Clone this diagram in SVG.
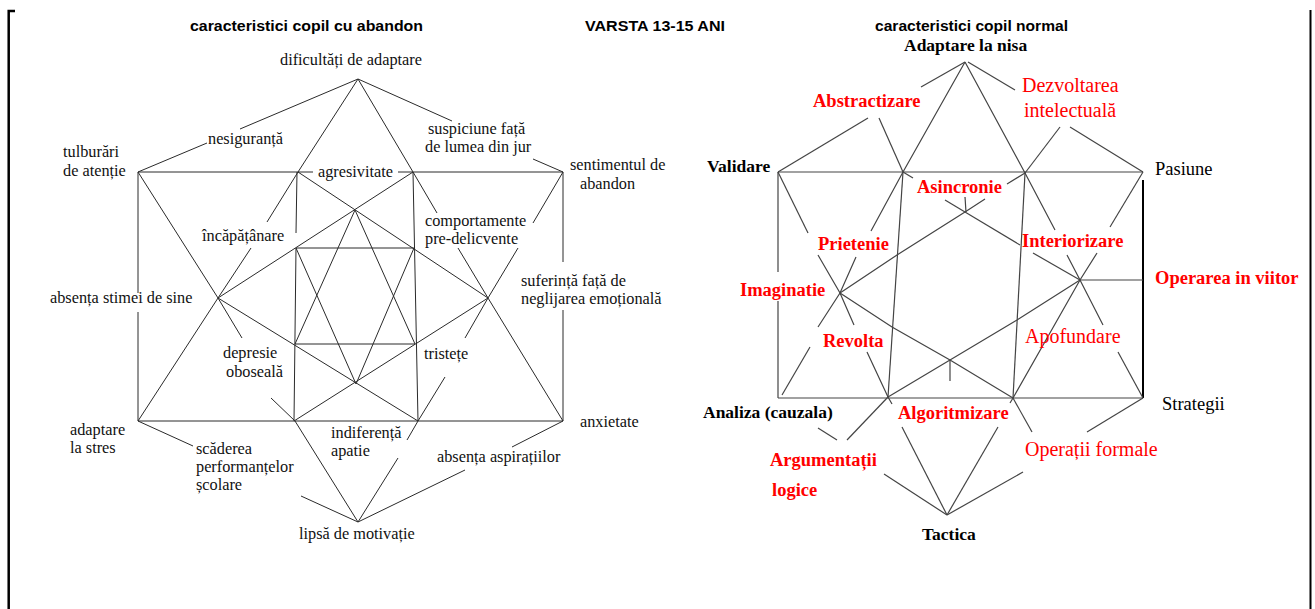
<svg xmlns="http://www.w3.org/2000/svg" width="1315" height="609" viewBox="0 0 1315 609">
<style>
.t{font-family:"Liberation Sans",Arial,sans-serif;font-weight:bold;font-size:14px;fill:#000}
.l{font-family:"Liberation Serif","Times New Roman",serif;font-size:16.3px;fill:#111}
.rb{font-family:"Liberation Serif","Times New Roman",serif;font-size:17.5px;font-weight:bold;fill:#000}
.rn{font-family:"Liberation Serif","Times New Roman",serif;font-size:18.5px;fill:#000}
.red{font-family:"Liberation Serif","Times New Roman",serif;font-size:18.5px;font-weight:bold;fill:#ff0000}
.redn{font-family:"Liberation Serif","Times New Roman",serif;font-size:20px;fill:#ff0000}
.lc line,.lc polyline{stroke:#2a2a2a;stroke-width:1;fill:none}
.rc line,.rc polyline{stroke:#444;stroke-width:1.2;fill:none}
</style>
<rect width="1315" height="609" fill="#fff"/>
<g id="frame" stroke="#000" fill="none">
<polyline points="15,11 8.7,11 8.7,609" stroke-width="2.5"/>
<line x1="1310.5" y1="10" x2="1310.5" y2="609" stroke-width="2"/>
</g>
<g id="titles">
<text class="t" x="190" y="31" textLength="233" lengthAdjust="spacingAndGlyphs">caracteristici copil cu abandon</text>
<text class="t" x="585" y="31" textLength="140" lengthAdjust="spacingAndGlyphs">VARSTA 13-15 ANI</text>
<text class="t" x="875" y="31" textLength="193" lengthAdjust="spacingAndGlyphs">caracteristici copil normal</text>
</g>
<g id="left-connectors" class="lc">
<polyline points="358,79 298,172 267,222"/>
<polyline points="251,248 218,298 138,421"/>
<polyline points="358,79 413,172 437,213"/>
<polyline points="458,248 488,298 563,421"/>
<polyline points="138,172 218,298 242,338"/>
<polyline points="271,398 295,421 358,522"/>
<polyline points="563,172 533,223"/>
<polyline points="518,248 488,298 465,338"/>
<polyline points="445,377 418,421 407,440"/>
<polyline points="398,458 358,522"/>
<line x1="138" y1="172" x2="313" y2="172"/>
<line x1="398" y1="172" x2="563" y2="172"/>
<line x1="138" y1="421" x2="563" y2="421"/>
<line x1="138" y1="172" x2="138" y2="293"/>
<line x1="138" y1="312" x2="138" y2="421"/>
<line x1="563" y1="172" x2="563" y2="262"/>
<line x1="563" y1="310" x2="563" y2="421"/>
<line x1="358" y1="79" x2="240" y2="129"/>
<line x1="207" y1="143" x2="138" y2="172"/>
<line x1="358" y1="79" x2="452" y2="121"/>
<line x1="533" y1="159" x2="563" y2="172"/>
<line x1="138" y1="421" x2="193" y2="446"/>
<line x1="301" y1="496" x2="358" y2="522"/>
<line x1="563" y1="421" x2="512" y2="447"/>
<line x1="465" y1="470" x2="358" y2="522"/>
<line x1="297" y1="172" x2="296" y2="233"/>
<line x1="296" y1="248" x2="294" y2="421"/>
<line x1="413" y1="172" x2="418" y2="421"/>
<line x1="296" y1="248" x2="414" y2="248"/>
<line x1="295" y1="344" x2="415" y2="344"/>
<line x1="298" y1="172" x2="488" y2="298"/>
<line x1="413" y1="172" x2="218" y2="298"/>
<line x1="218" y1="298" x2="418" y2="421"/>
<line x1="488" y1="298" x2="294" y2="421"/>
<line x1="355" y1="210" x2="295" y2="344"/>
<line x1="355" y1="210" x2="415" y2="344"/>
<line x1="296" y1="248" x2="356" y2="384"/>
<line x1="414" y1="248" x2="356" y2="384"/>
</g>
<g id="left-nodes">
<g id="n-dificultati"><text class="l" x="280" y="65">dificultăți de adaptare</text></g>
<g id="n-nesiguranta"><text class="l" x="208" y="144">nesiguranță</text></g>
<g id="n-tulburari"><text class="l" x="63" y="157">tulburări</text><text class="l" x="63" y="176">de atenție</text></g>
<g id="n-agresivitate"><text class="l" x="318" y="177">agresivitate</text></g>
<g id="n-suspiciune"><text class="l" x="428" y="134">suspiciune față</text><text class="l" x="425" y="152">de lumea din jur</text></g>
<g id="n-sentimentul"><text class="l" x="570" y="170">sentimentul de</text><text class="l" x="580" y="189">abandon</text></g>
<g id="n-incapatanare"><text class="l" x="202" y="241">încăpățânare</text></g>
<g id="n-comportamente"><text class="l" x="425" y="226">comportamente</text><text class="l" x="425" y="244">pre-delicvente</text></g>
<g id="n-absenta-stimei"><text class="l" x="50" y="303">absența stimei de sine</text></g>
<g id="n-suferinta"><text class="l" x="521" y="286">suferință față de</text><text class="l" x="521" y="304">neglijarea emoțională</text></g>
<g id="n-depresie"><text class="l" x="223" y="358">depresie</text><text class="l" x="226" y="377">oboseală</text></g>
<g id="n-tristete"><text class="l" x="424" y="359">tristețe</text></g>
<g id="n-adaptare-stres"><text class="l" x="70" y="435">adaptare</text><text class="l" x="70" y="453">la stres</text></g>
<g id="n-scaderea"><text class="l" x="196" y="454">scăderea</text><text class="l" x="196" y="472">performanțelor</text><text class="l" x="196" y="490">școlare</text></g>
<g id="n-indiferenta"><text class="l" x="331" y="438">indiferență</text><text class="l" x="331" y="456">apatie</text></g>
<g id="n-aspiratii"><text class="l" x="437" y="462">absența aspirațiilor</text></g>
<g id="n-anxietate"><text class="l" x="580" y="427">anxietate</text></g>
<g id="n-lipsa"><text class="l" x="299" y="539">lipsă de motivație</text></g>
</g>
<g id="right-connectors" class="rc">
<line x1="778" y1="172" x2="1143" y2="172"/>
<line x1="778" y1="398" x2="1143" y2="398"/>
<line x1="778" y1="172" x2="778" y2="272"/>
<line x1="778" y1="301" x2="778" y2="398"/>
<line x1="1143" y1="180" x2="1143" y2="398" style="stroke:#000;stroke-width:2"/>
<line x1="1080" y1="280" x2="1143" y2="280"/>
<line x1="965" y1="62" x2="921" y2="87"/>
<line x1="868" y1="118" x2="778" y2="172"/>
<line x1="968" y1="62" x2="1015" y2="90"/>
<line x1="1070" y1="127" x2="1143" y2="172"/>
<line x1="879" y1="118" x2="903" y2="172"/>
<line x1="1060" y1="127" x2="1025" y2="173"/>
<polyline points="965,62 903,172 871,231"/>
<polyline points="856,257 840,293 818,327"/>
<polyline points="810,347 782,395"/>
<polyline points="965,62 1025,173 1055,230"/>
<polyline points="1067,255 1080,280 1103,325"/>
<line x1="1118" y1="352" x2="1143" y2="398"/>
<line x1="778" y1="172" x2="808" y2="233"/>
<polyline points="818,255 840,293 854,325"/>
<polyline points="867,352 888,397 892,404"/>
<line x1="902" y1="427" x2="947" y2="515"/>
<line x1="1143" y1="172" x2="1110" y2="227"/>
<polyline points="1097,253 1080,280 1013,398 1010,403"/>
<line x1="998" y1="427" x2="947" y2="515"/>
<polyline points="840,293 897,255 965,212 985,199"/>
<line x1="1007" y1="184" x2="1025" y2="173"/>
<line x1="1080" y1="280" x2="1033" y2="253"/>
<polyline points="1020,245 965,212 945,200"/>
<line x1="913" y1="178" x2="903" y2="172"/>
<polyline points="840,293 892,327 950,360 1013,398"/>
<polyline points="1080,280 1017,320 950,360 888,397"/>
<line x1="903" y1="172" x2="888" y2="397"/>
<line x1="1025" y1="173" x2="1013" y2="398"/>
<line x1="965" y1="197" x2="966" y2="212"/>
<line x1="950" y1="360" x2="950" y2="381"/>
<line x1="818" y1="428" x2="837" y2="440"/>
<line x1="884" y1="474" x2="947" y2="515"/>
<line x1="888" y1="397" x2="847" y2="440"/>
<line x1="1013" y1="398" x2="1032" y2="432"/>
<line x1="1143" y1="398" x2="1087" y2="432"/>
<line x1="1023" y1="472" x2="947" y2="515"/>
</g>
<g id="right-nodes">
<g id="r-adaptare-nisa"><text class="rb" x="904" y="51">Adaptare la nisa</text></g>
<g id="r-abstractizare"><text class="red" x="813" y="107">Abstractizare</text></g>
<g id="r-dezvoltarea"><text class="redn" x="1022" y="92">Dezvoltarea</text><text class="redn" x="1024" y="117">intelectuală</text></g>
<g id="r-validare"><text class="rb" x="707" y="172">Validare</text></g>
<g id="r-pasiune"><text class="rn" x="1155" y="175">Pasiune</text></g>
<g id="r-asincronie"><text class="red" x="917" y="193">Asincronie</text></g>
<g id="r-prietenie"><text class="red" x="818" y="250">Prietenie</text></g>
<g id="r-interiorizare"><text class="red" x="1022" y="247">Interiorizare</text></g>
<g id="r-imaginatie"><text class="red" x="740" y="296">Imaginatie</text></g>
<g id="r-operarea"><text class="red" x="1155" y="284">Operarea in viitor</text></g>
<g id="r-revolta"><text class="red" x="823" y="347">Revolta</text></g>
<g id="r-apofundare"><text class="redn" x="1025" y="343">Apofundare</text></g>
<g id="r-analiza"><text class="rb" x="703" y="418">Analiza (cauzala)</text></g>
<g id="r-algoritmizare"><text class="red" x="898" y="419">Algoritmizare</text></g>
<g id="r-strategii"><text class="rn" x="1162" y="410">Strategii</text></g>
<g id="r-argumentatii"><text class="red" x="770" y="466">Argumentații</text><text class="red" x="772" y="496">logice</text></g>
<g id="r-operatii"><text class="redn" x="1025" y="456">Operații formale</text></g>
<g id="r-tactica"><text class="rb" x="922" y="540">Tactica</text></g>
</g>
</svg>
